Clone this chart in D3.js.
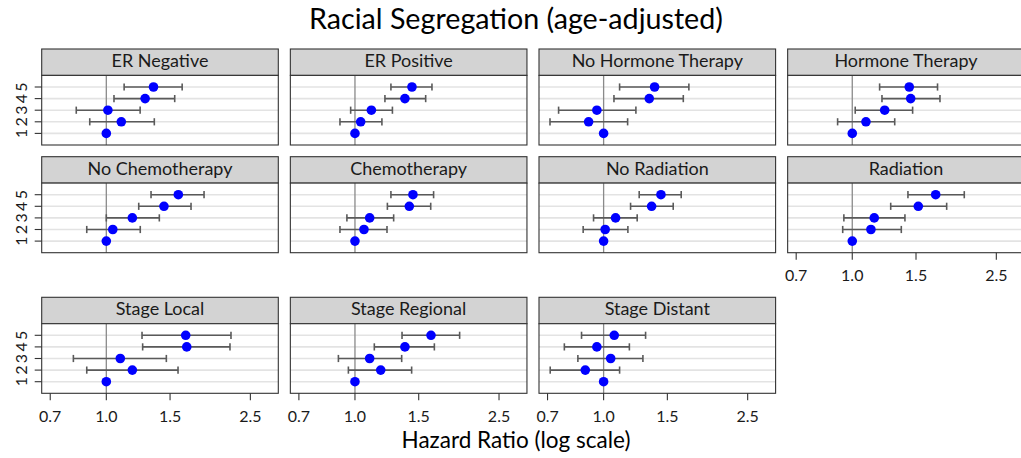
<!DOCTYPE html>
<html><head><meta charset="utf-8">
<script src="https://cdn.jsdelivr.net/npm/d3@7"></script>
<style>html,body{margin:0;padding:0;background:#fff;overflow:hidden}</style>
</head><body>
<svg id="chart" width="1021" height="458"></svg>
<script>
const panels = ["ER Negative","ER Positive","No Hormone Therapy","Hormone Therapy","No Chemotherapy","Chemotherapy","No Radiation","Radiation","Stage Local","Stage Regional","Stage Distant"];
const levels = ["1","2","3","4","5"];
const xTicks = [0.7, 1.0, 1.5, 2.5];
const hr = [
  [1, 1.10, 1.01, 1.28, 1.35],
  [1, 1.037, 1.11, 1.374, 1.437],
  [1, 0.909, 0.958, 1.337, 1.383],
  [1, 1.091, 1.229, 1.45, 1.437],
  [1, 1.042, 1.18, 1.443, 1.581],
  [1, 1.059, 1.098, 1.413, 1.446],
  [1, 1.01, 1.079, 1.357, 1.44],
  [1, 1.126, 1.15, 1.522, 1.70],
  [1, 1.18, 1.093, 1.668, 1.657],
  [1, 1.178, 1.098, 1.374, 1.622],
  [1, 0.89, 1.046, 0.958, 1.07]
];
const lower = [
  [null, 0.90, 0.826, 1.05, 1.12],
  [null, 0.909, 0.973, 1.21, 1.257],
  [null, 0.711, 0.751, 1.068, 1.107],
  [null, 0.911, 1.019, 1.208, 1.19],
  [null, 0.883, 1.0, 1.229, 1.329],
  [null, 0.909, 0.95, 1.229, 1.257],
  [null, 0.878, 0.938, 1.187, 1.254],
  [null, 0.941, 0.948, 1.277, 1.425],
  [null, 0.883, 0.811, 1.26, 1.255],
  [null, 0.959, 0.90, 1.131, 1.349],
  [null, 0.712, 0.849, 0.779, 0.869]
];
const upper = [
  [null, 1.357, 1.24, 1.545, 1.62],
  [null, 1.187, 1.269, 1.568, 1.632],
  [null, 1.165, 1.228, 1.66, 1.72],
  [null, 1.31, 1.468, 1.747, 1.72],
  [null, 1.241, 1.401, 1.714, 1.862],
  [null, 1.226, 1.279, 1.619, 1.649],
  [null, 1.167, 1.238, 1.557, 1.638],
  [null, 1.366, 1.398, 1.823, 2.039],
  [null, 1.578, 1.465, 2.196, 2.21],
  [null, 1.434, 1.346, 1.657, 1.946],
  [null, 1.107, 1.284, 1.178, 1.306]
];

const FONT = "Lato, 'Open Sans', sans-serif";
const svg = d3.select("#chart");
svg.append("rect").attr("width",1021).attr("height",458).attr("fill","#fff");

function fitSize(text, targetW, weight) {
  const t = svg.append("text").attr("font-family", FONT).attr("font-size", 100)
    .attr("font-weight", weight || "normal").text(text);
  const w = t.node().getComputedTextLength();
  t.remove();
  return 100 * targetW / w;
}

const ncol = 4;
const colLeft0 = 41.7, colStep = 248.65, panelW = 236.6;
const stripTops = [49, 156.7, 297.3];
const stripH = 26.4, panelH = 69.6;

const x = d3.scaleLog().domain([0.663, 2.986]).range([0, panelW]);
const y = d3.scalePoint().domain(levels.slice().reverse()).range([0, panelH]).padding(1);

const stripFs = fitSize("ER Negative", 97);
const tickFs = fitSize("0.7", 22.3);

panels.forEach((name, i) => {
  const col = i % ncol, row = Math.floor(i / ncol);
  const left = colLeft0 + col * colStep;
  const sTop = stripTops[row];
  const pTop = sTop + stripH;
  // strip
  svg.append("rect").attr("x", left).attr("y", sTop).attr("width", panelW).attr("height", stripH)
    .attr("fill", "#d3d3d3").attr("stroke", "#333").attr("stroke-width", 1.1);
  svg.append("text").attr("x", left + panelW/2).attr("y", sTop + 18)
    .attr("text-anchor","middle").attr("font-family", FONT).attr("font-size", stripFs)
    .attr("fill","#1a1a1a").text(name);

  const g = svg.append("g").attr("transform", `translate(${left},${pTop})`);
  g.append("rect").attr("width", panelW).attr("height", panelH).attr("fill", "#fff");
  // grid
  g.selectAll("line.grid").data(levels).join("line").attr("class","grid")
    .attr("x1",0).attr("x2",panelW).attr("y1",d=>y(d)).attr("y2",d=>y(d))
    .attr("stroke","#e3e3e3").attr("stroke-width",1.6);
  // reference line
  g.append("line").attr("x1",x(1)).attr("x2",x(1)).attr("y1",0).attr("y2",panelH)
    .attr("stroke","#8a8a8a").attr("stroke-width",1.3);
  const data = levels.map((lv, k) => ({lv, est: hr[i][k], lo: lower[i][k], hi: upper[i][k]}));
  const ci = data.filter(d => d.lo != null);
  const eb = g.selectAll("g.eb").data(ci).join("g").attr("class","eb")
    .attr("stroke","#5a5a5a").attr("stroke-width",1.6);
  eb.append("line").attr("x1",d=>x(d.lo)).attr("x2",d=>x(d.hi)).attr("y1",d=>y(d.lv)).attr("y2",d=>y(d.lv));
  eb.append("line").attr("x1",d=>x(d.lo)).attr("x2",d=>x(d.lo)).attr("y1",d=>y(d.lv)-3.6).attr("y2",d=>y(d.lv)+3.6);
  eb.append("line").attr("x1",d=>x(d.hi)).attr("x2",d=>x(d.hi)).attr("y1",d=>y(d.lv)-3.6).attr("y2",d=>y(d.lv)+3.6);
  g.selectAll("circle").data(data).join("circle")
    .attr("cx",d=>x(d.est)).attr("cy",d=>y(d.lv)).attr("r",4.8).attr("fill","#0000ff");
  // border
  g.append("rect").attr("width", panelW).attr("height", panelH).attr("fill","none")
    .attr("stroke","#333").attr("stroke-width",1.1);

  // y axis on first column
  if (col === 0) {
    g.selectAll("line.yt").data(levels).join("line").attr("class","yt")
      .attr("x1",-7).attr("x2",0).attr("y1",d=>y(d)).attr("y2",d=>y(d))
      .attr("stroke","#333").attr("stroke-width",1.1);
    g.selectAll("text.yl").data(levels).join("text").attr("class","yl")
      .attr("transform", d => `translate(${27 - left},${y(d)}) rotate(-90)`)
      .attr("text-anchor","middle").attr("font-family",FONT).attr("font-size",tickFs)
      .attr("fill","#1a1a1a").text(d=>d);
  }
  // x axis on bottom panel of each column
  const isBottom = (row === 2) || (row === 1 && col === 3);
  if (isBottom) {
    g.selectAll("line.xt").data(xTicks).join("line").attr("class","xt")
      .attr("x1",d=>x(d)).attr("x2",d=>x(d)).attr("y1",panelH).attr("y2",panelH+7)
      .attr("stroke","#333").attr("stroke-width",1.1);
    g.selectAll("text.xl").data(xTicks).join("text").attr("class","xl")
      .attr("x",d=>x(d)).attr("y",panelH+28.7).attr("text-anchor","middle")
      .attr("font-family",FONT).attr("font-size",tickFs).attr("fill","#1a1a1a")
      .text(d=>d3.format(".1f")(d));
  }
});

svg.append("text").attr("x",516).attr("y",29).attr("text-anchor","middle")
  .attr("font-family",FONT).attr("font-size",fitSize("Racial Segregation (age-adjusted)",414))
  .attr("fill","#000").text("Racial Segregation (age-adjusted)");
svg.append("text").attr("x",516).attr("y",448).attr("text-anchor","middle")
  .attr("font-family",FONT).attr("font-size",fitSize("Hazard Ratio (log scale)",229))
  .attr("fill","#000").text("Hazard Ratio (log scale)");
</script>
</body></html>
